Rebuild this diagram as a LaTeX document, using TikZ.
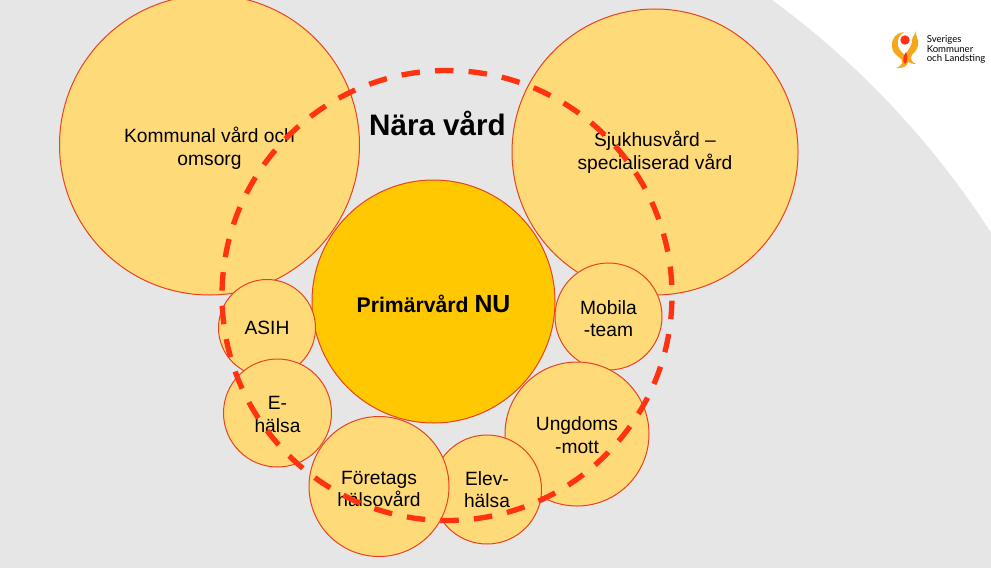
\documentclass[tikz,border=0pt]{standalone}
\usepackage{fontspec}
\setmainfont{Liberation Sans}
\newfontfamily\logofont{Lato}
\usepackage{xcolor}
\definecolor{bandgrey}{HTML}{E6E6E6}
\definecolor{softyellow}{HTML}{FFDA78}
\definecolor{coreyellow}{HTML}{FFC800}
\definecolor{ringred}{HTML}{E8431F}
\definecolor{dashred}{HTML}{FF3312}
\definecolor{logoorange}{HTML}{F5A81C}
\newcommand{\dropline}[1]{\rule{0pt}{#1}}

\begin{document}
\begin{tikzpicture}[x=0.75pt, y=-0.75pt,
    blob/.style={circle, draw=ringred, line width=0.75pt, fill=softyellow, inner sep=0pt, align=center,
      font=\fontsize{14.4}{17}\selectfont},
    core/.style={blob, fill=coreyellow, font=\fontsize{15.9}{17}\selectfont\bfseries},
    nearring/.style={circle, draw=dashred, line width=4pt, inner sep=0pt, dash pattern=on 13.9pt off 11.34pt, dash phase=17.4pt}]

        \useasboundingbox (0,0) rectangle (991,567);
        \clip (0,0) rectangle (991,567);

        % Hintergrund
        \fill[white] (0,0) rectangle (991,567);
        \fill[bandgrey] (257.6,702.9) circle [radius=871];

        % Grosse Kreise
        \node[blob, minimum size=225pt] (kommunal) at (209.5,145) {\dropline{16pt}Kommunal vård och\\omsorg};
        \node[blob, minimum size=214.5pt] (sjukhus) at (655,152) {Sjukhusvård --\\specialiserad vård};
        \node[core, minimum size=182.25pt] (primar) at (433.5,301.5) {\dropline{16.5pt}Primärvård {\fontsize{18.6}{17}\selectfont NU}};

        % Kleine Kreise
        \node[blob, minimum size=72.75pt] (asih) at (267,328) {ASIH};
        \node[blob, minimum size=80.25pt] (mobila) at (608.5,316.5) {\dropline{13.7pt}Mobila\\-team};
        \node[blob, minimum size=81pt] (ehalsa) at (277.5,413) {\dropline{12pt}E-\\hälsa};
        \node[blob, minimum size=108pt] (ungdoms) at (577,434) {\dropline{12pt}Ungdoms\\-mott};
        \node[blob, minimum size=81.75pt] (elev) at (487,489.5) {Elev-\\hälsa};
        \node[blob, minimum size=105pt] (foretag) at (379,486.5) {\dropline{13.7pt}Företags\\hälsovård};

        % Gestrichelter Ring
        \node[nearring, minimum size=337.5pt] (nara) at (447,295.5) {};
        \node[font=\fontsize{22.2}{24}\selectfont\bfseries] (naratext) at (437.5,123) {Nära vård};

        % Logo
        \fill[logoorange] (904,32) .. controls (895,33) and (891,40) .. (892,47) .. controls (893,55) and (900,57) .. (902,60)
          .. controls (903,64) and (900,67) .. (896,68) .. controls (904,69) and (909,65) .. (908,60)
          .. controls (907,55) and (899,52) .. (898,46) .. controls (897,40) and (899,35) .. (904,32) -- cycle;
        \fill[logoorange] (915,31) .. controls (916,35) and (912,36) .. (912,40) .. controls (912,48) and (906,51) .. (905,56)
          .. controls (906,62) and (910,64) .. (916,64) .. controls (911,62) and (910,58) .. (912,55)
          .. controls (916,51) and (919,47) .. (918,41) .. controls (917,37) and (916,34) .. (915,31) -- cycle;
        \fill[dashred] (906,52) .. controls (903,56) and (902,61) .. (905,64) .. controls (908,61) and (908,56) .. (906,52) -- cycle;
        \fill[dashred] (905,40) circle [radius=4.7];
        \node[anchor=west, align=left, inner sep=0pt, font=\logofont\fontsize{7.2}{7.1}\selectfont] (logotext) at (926.5,49.5) {Sveriges\\Kommuner\\och Landsting};

      \end{tikzpicture}
\end{document}
